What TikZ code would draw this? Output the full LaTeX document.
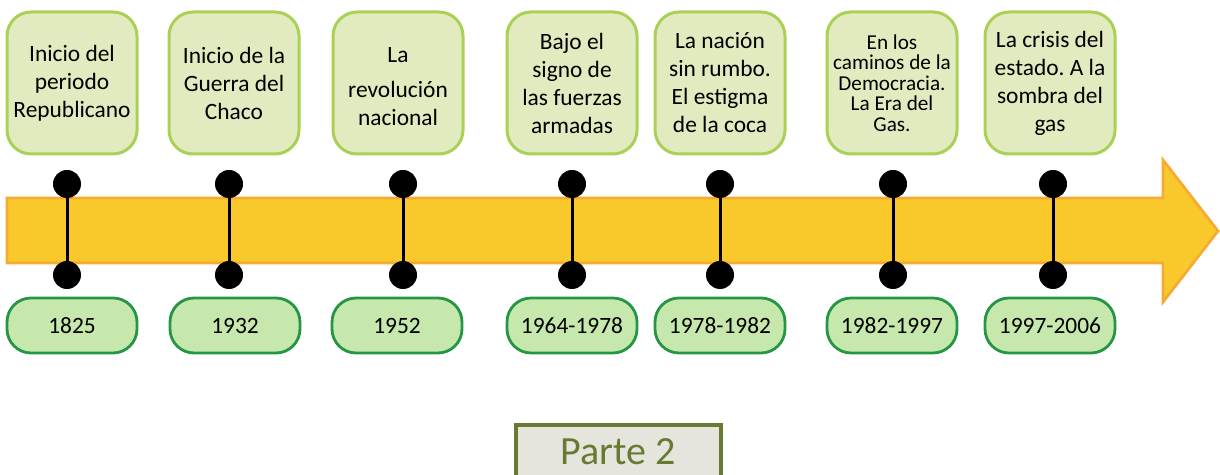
\documentclass[tikz,border=0pt]{standalone}
\usepackage{fontspec}
\setmainfont{Carlito}
\usetikzlibrary{positioning}
\frenchspacing
\definecolor{eventfill}{RGB}{226,235,191}
\definecolor{eventline}{RGB}{170,209,86}
\definecolor{yearfill}{RGB}{198,232,172}
\definecolor{yearline}{RGB}{38,150,70}
\definecolor{bandfill}{RGB}{249,201,44}
\definecolor{bandline}{RGB}{247,171,50}
\definecolor{partfill}{RGB}{229,229,221}
\definecolor{partolive}{RGB}{102,122,50}
\tikzset{
  event/.style={draw=eventline, line width=1.5pt, fill=eventfill,
                minimum width=65pt, minimum height=71pt,
                rounded corners=12pt, inner sep=2pt, align=center,
                font=\fontsize{11.7}{14}\selectfont},
  eventsmall/.style={event, font=\fontsize{10.6}{10.2}\selectfont},
  yearbox/.style={draw=yearline, line width=1.4pt, fill=yearfill,
                  minimum width=65pt, minimum height=27.5pt,
                  rounded corners=12pt, inner sep=2pt,
                  font=\fontsize{11.7}{14}\selectfont},
  dot/.style={circle, fill=black, minimum size=14pt, inner sep=0pt},
  stem/.style={black, line width=1.5pt},
  band/.style={draw=bandline, line width=1.4pt, fill=bandfill},
  partbox/.style={draw=partolive, line width=2pt, fill=partfill,
                  minimum width=102.5pt, minimum height=34pt,
                  text=partolive, font=\fontsize{20}{24}\selectfont},
}
\begin{document}
\begin{tikzpicture}[x=0.5pt,y=-0.5pt]
  \useasboundingbox (0,0) rectangle (1220,475);

  % Timeline band with arrow head.
  \draw[band] (7,198) -- (1163,198) -- (1163,160) -- (1218,231)
    -- (1163,302) -- (1163,263) -- (7,263) -- cycle;

  % Period boxes above the band.
  \node[event] (e1) at (72,83) {Inicio del\\periodo\\Republicano};
  \node[event] (e2) at (234,83) {Inicio de la\\Guerra del\\Chaco};
  \node[event] (e3) at (398,83) {\rule{0pt}{11.3pt}La\\[3.5pt]revolución\\nacional};
  \node[event] (e4) at (572,83) {Bajo el\\signo de\\las fuerzas\\armadas};
  \node[event] (e5) at (720,83) {La nación\\sin rumbo.\\El estigma\\de la coca};
  \node[eventsmall] (e6) at (892,83) {En los\\caminos de la\\Democracia.\\La Era del\\Gas.};
  \node[event] (e7) at (1050,83) {La crisis del\\estado. A la\\sombra del\\gas};

  % Markers and dates.
  \foreach \i/\xd/\xy/\yr in {
    1/67/72/1825,
    2/229/235/1932,
    3/403/397/1952,
    4/572/572/1964-1978,
    5/720/720/1978-1982,
    6/893/892/1982-1997,
    7/1053/1050/1997-2006
  }{
    \node[dot] (a\i) at (\xd,184) {};
    \node[dot] (b\i) at (\xd,275) {};
    \draw[stem] (a\i) -- (b\i);
    \node[yearbox] (y\i) at (\xy,325.5) {\yr};
  }

  % Box runs past the lower edge of the page.
  \node[partbox] (parte) at (618.5,459) {Parte 2\rule[-7pt]{0pt}{7pt}};
\end{tikzpicture}
\end{document}
